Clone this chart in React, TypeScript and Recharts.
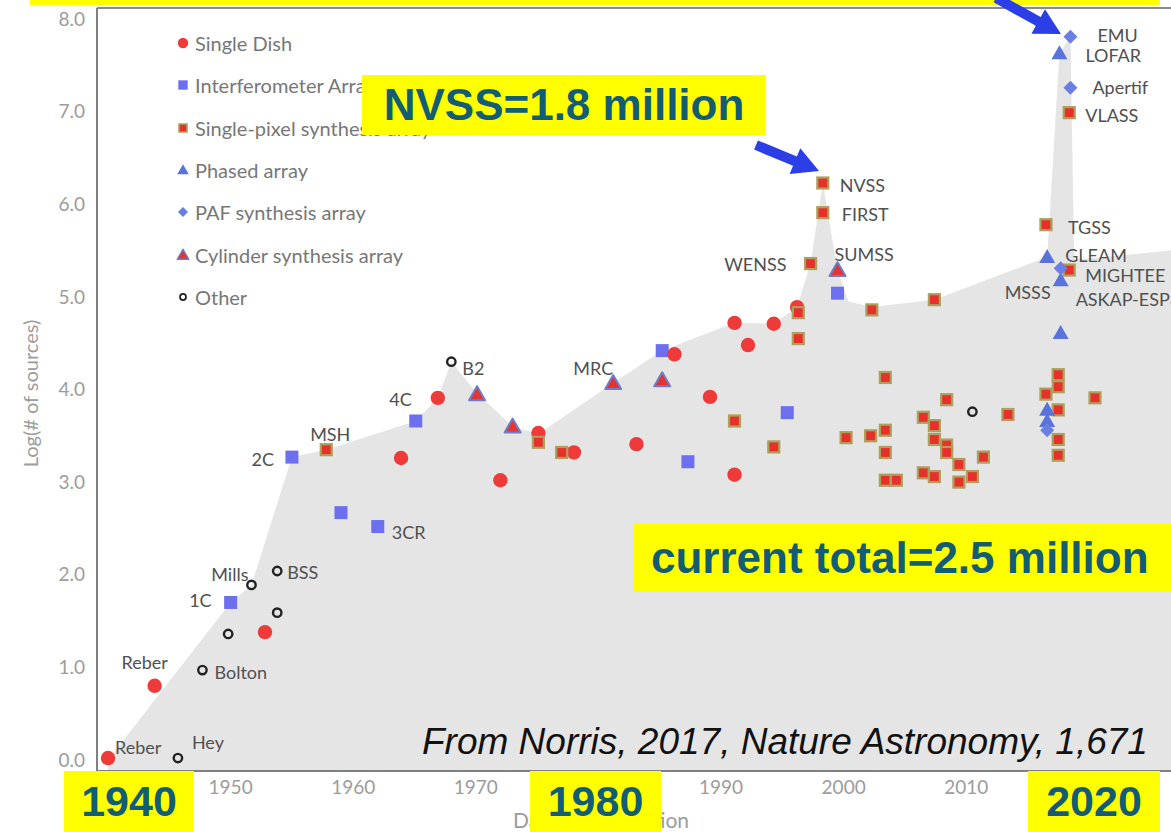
import { ComposedChart, Area, Scatter, XAxis, YAxis, ReferenceLine, Legend } from 'recharts';

const FONT = 'Lato, "Open Sans", sans-serif';
const BANNER_FONT = '"Liberation Sans", Arial, sans-serif';

// upper envelope of the largest catalogue so far (grey band)
const envelope = [
    { year: 1940.0, logN: 0.0 },
    { year: 1950.0, logN: 1.7 },
    { year: 1951.7, logN: 1.89 },
    { year: 1955.0, logN: 3.27 },
    { year: 1957.8, logN: 3.35 },
    { year: 1965.1, logN: 3.66 },
    { year: 1966.9, logN: 3.91 },
    { year: 1968.0, logN: 4.3 },
    { year: 1970.1, logN: 3.96 },
    { year: 1973.0, logN: 3.6 },
    { year: 1975.1, logN: 3.52 },
    { year: 1981.2, logN: 4.07 },
    { year: 1985.2, logN: 4.42 },
    { year: 1991.1, logN: 4.72 },
    { year: 1994.3, logN: 4.71 },
    { year: 1996.2, logN: 4.89 },
    { year: 1997.3, logN: 5.36 },
    { year: 1998.3, logN: 6.23 },
    { year: 1999.5, logN: 5.29 },
    { year: 2000.4, logN: 4.95 },
    { year: 2002.3, logN: 4.89 },
    { year: 2007.4, logN: 4.97 },
    { year: 2016.6, logN: 5.43 },
    { year: 2017.6, logN: 7.63 },
    { year: 2018.5, logN: 7.81 },
    { year: 2018.8, logN: 5.4 },
    { year: 2026.7, logN: 5.5 },
];

const singleDish = [
    { year: 1940.0, logN: 0.02, name: 'Reber' },
    { year: 1943.8, logN: 0.8, name: 'Reber' },
    { year: 1952.8, logN: 1.38 },
    { year: 1963.9, logN: 3.26 },
    { year: 1966.9, logN: 3.91 },
    { year: 1972.0, logN: 3.02 },
    { year: 1975.1, logN: 3.53 },
    { year: 1978.0, logN: 3.32 },
    { year: 1983.1, logN: 3.41 },
    { year: 1986.2, logN: 4.38 },
    { year: 1989.1, logN: 3.92 },
    { year: 1991.1, logN: 4.72 },
    { year: 1991.1, logN: 3.08 },
    { year: 1992.2, logN: 4.48 },
    { year: 1994.3, logN: 4.71 },
    { year: 1996.2, logN: 4.89 },
];

const interferometer = [
    { year: 1950.0, logN: 1.7, name: '1C' },
    { year: 1955.0, logN: 3.27, name: '2C' },
    { year: 1959.0, logN: 2.67 },
    { year: 1962.0, logN: 2.52, name: '3CR' },
    { year: 1965.1, logN: 3.66, name: '4C' },
    { year: 1985.2, logN: 4.42 },
    { year: 1987.3, logN: 3.22 },
    { year: 1995.4, logN: 3.75 },
    { year: 1999.5, logN: 5.04 },
];

const singlePixel = [
    { year: 1957.8, logN: 3.35, name: 'MSH' },
    { year: 1975.1, logN: 3.43 },
    { year: 1977.0, logN: 3.32 },
    { year: 1991.1, logN: 3.66 },
    { year: 1994.3, logN: 3.38 },
    { year: 1996.3, logN: 4.83 },
    { year: 1996.3, logN: 4.55 },
    { year: 1997.3, logN: 5.36, name: 'WENSS' },
    { year: 1998.3, logN: 5.91, name: 'FIRST' },
    { year: 1998.3, logN: 6.23, name: 'NVSS' },
    { year: 2000.2, logN: 3.48 },
    { year: 2002.2, logN: 3.5 },
    { year: 2002.3, logN: 4.86 },
    { year: 2003.4, logN: 4.13 },
    { year: 2003.4, logN: 3.56 },
    { year: 2003.4, logN: 3.32 },
    { year: 2003.4, logN: 3.02 },
    { year: 2004.3, logN: 3.02 },
    { year: 2006.5, logN: 3.7 },
    { year: 2006.5, logN: 3.1 },
    { year: 2007.4, logN: 4.97 },
    { year: 2007.4, logN: 3.61 },
    { year: 2007.4, logN: 3.46 },
    { year: 2007.4, logN: 3.06 },
    { year: 2008.4, logN: 3.89 },
    { year: 2008.4, logN: 3.4 },
    { year: 2008.4, logN: 3.32 },
    { year: 2009.4, logN: 3.19 },
    { year: 2009.4, logN: 3.0 },
    { year: 2010.5, logN: 3.06 },
    { year: 2011.4, logN: 3.27 },
    { year: 2013.4, logN: 3.73 },
    { year: 2016.5, logN: 3.95 },
    { year: 2016.5, logN: 5.78, name: 'TGSS' },
    { year: 2017.5, logN: 4.16 },
    { year: 2017.5, logN: 4.03 },
    { year: 2017.5, logN: 3.78 },
    { year: 2017.5, logN: 3.46 },
    { year: 2017.5, logN: 3.29 },
    { year: 2018.4, logN: 6.99, name: 'VLASS' },
    { year: 2018.4, logN: 5.29, name: 'MIGHTEE' },
    { year: 2020.5, logN: 3.91 },
];

const phasedArray = [
    { year: 2016.6, logN: 3.78 },
    { year: 2016.6, logN: 3.66 },
    { year: 2016.6, logN: 5.43, name: 'GLEAM' },
    { year: 2017.6, logN: 7.63, name: 'LOFAR' },
    { year: 2017.7, logN: 5.18, name: 'MSSS' },
    { year: 2017.7, logN: 4.61 },
];

const pafArray = [
    { year: 2016.6, logN: 3.56 },
    { year: 2017.7, logN: 5.31, name: 'ASKAP-ESP3' },
    { year: 2018.5, logN: 7.26, name: 'Apertif' },
    { year: 2018.5, logN: 7.81, name: 'EMU' },
];

const cylinder = [
    { year: 1970.1, logN: 3.95 },
    { year: 1973.0, logN: 3.6 },
    { year: 1981.2, logN: 4.07, name: 'MRC' },
    { year: 1985.2, logN: 4.1 },
    { year: 1999.5, logN: 5.29, name: 'SUMSS' },
];

const other = [
    { year: 1945.7, logN: 0.02, name: 'Hey' },
    { year: 1947.7, logN: 0.97, name: 'Bolton' },
    { year: 1949.8, logN: 1.36 },
    { year: 1951.7, logN: 1.89, name: 'Mills' },
    { year: 1953.8, logN: 2.04, name: 'BSS' },
    { year: 1953.8, logN: 1.59 },
    { year: 1968.0, logN: 4.3, name: 'B2' },
    { year: 2010.5, logN: 3.76 },
];

// 1940, 1980 and 2020 sit under the yellow year banners
const yearTicks = [1950, 1960, 1970, 1990, 2000, 2010];
const logTicks = [0, 1, 2, 3, 4, 5, 6, 7, 8];

const series = [
    { name: 'Single Dish', kind: 'dish', data: singleDish },
    { name: 'Interferometer Array', kind: 'interf', data: interferometer },
    { name: 'Single-pixel synthesis array', kind: 'pixel', data: singlePixel },
    { name: 'Phased array', kind: 'phased', data: phasedArray },
    { name: 'PAF synthesis array', kind: 'paf', data: pafArray },
    { name: 'Cylinder synthesis array', kind: 'cyl', data: cylinder },
    { name: 'Other', kind: 'other', data: other },
];

// draw order: squares under the red dishes, like the original
const drawOrder = ['interf', 'dish', 'pixel', 'cyl', 'phased', 'paf', 'other'];

// where each survey name sits relative to its marker: anchor, dx, dy
const LABEL_POS: Record<string, [string, number, number]> = {
    'Reber@1940': ['start', 7, -11],
    'Reber@1944': ['middle', -10, -24],
    Hey: ['start', 14, -16],
    Bolton: ['start', 12, 2],
    '1C': ['end', -19, -2],
    Mills: ['end', -3, -11],
    BSS: ['start', 10, 1],
    '2C': ['end', -18, 2],
    MSH: ['middle', 4, -16],
    '3CR': ['start', 14, 5],
    '4C': ['end', -4, -22],
    B2: ['start', 11, 6],
    MRC: ['end', 0, -15],
    NVSS: ['start', 17, 2],
    FIRST: ['start', 19, 1],
    WENSS: ['end', -24, 0],
    SUMSS: ['start', -3, -16],
    EMU: ['start', 27, -2],
    LOFAR: ['start', 26, 2],
    Apertif: ['start', 22, -1],
    VLASS: ['start', 16, 2],
    TGSS: ['start', 22, 2],
    GLEAM: ['start', 18, -2],
    MIGHTEE: ['start', 16, 5],
    MSSS: ['end', -10, 12],
    'ASKAP-ESP3': ['start', 15, 31],
};

const Glyph = ({ kind, cx, cy, s = 1 }: { kind: string, cx: number, cy: number, s?: number }) => {
    switch (kind) {
        case 'dish':
            return <circle cx={cx} cy={cy} r={7.2 * s} fill="#ef3a3a" />;
        case 'interf':
            return <rect x={cx - 6.5 * s} y={cy - 6.5 * s} width={13 * s} height={13 * s} fill="#6d70ee" />;
        case 'pixel':
            return <rect x={cx - 5.5 * s} y={cy - 5.5 * s} width={11 * s} height={11 * s} fill="#e8302b" stroke="#aca05e" strokeWidth={2.2 * s} />;
        case 'phased':
            return <polygon points={`${cx},${cy - 8 * s} ${cx + 8 * s},${cy + 6 * s} ${cx - 8 * s},${cy + 6 * s}`} fill="#5a72dc" />;
        case 'paf':
            return <polygon points={`${cx},${cy - 7 * s} ${cx + 7 * s},${cy} ${cx},${cy + 7 * s} ${cx - 7 * s},${cy}`} fill="#6b7fe2" />;
        case 'cyl':
            return <polygon points={`${cx},${cy - 8 * s} ${cx + 8 * s},${cy + 6 * s} ${cx - 8 * s},${cy + 6 * s}`} fill="#e43434" stroke="#6f7cc6" strokeWidth={2 * s} strokeLinejoin="round" />;
        default:
            return <circle cx={cx} cy={cy} r={4.2 * s} fill="none" stroke="#222" strokeWidth={2.4 * s} />;
    }
};

const makeShape = (kind: string) => (props: any) => {
    const { cx, cy, payload } = props;
    const name = payload?.name;
    const pos = name ? (LABEL_POS[`${name}@${Math.round(payload.year)}`] || LABEL_POS[name]) : null;
    return (
        <g>
            <Glyph kind={kind} cx={cx} cy={cy} />
            {pos && (
                <text x={cx + pos[1]} y={cy + pos[2]} textAnchor={pos[0] as any} dominantBaseline="central"
                    fontSize={18} fontFamily={FONT} fill="#505050">
                    {name}
                </text>
            )}
        </g>
    );
};

const LegendBox = () => (
    <div style={{ fontFamily: FONT }}>
        {series.map((s) => (
            <div key={s.name} style={{ height: 42.3, display: 'flex', alignItems: 'center', whiteSpace: 'nowrap' }}>
                <svg width={16} height={16} style={{ flex: 'none' }}>
                    <Glyph kind={s.kind} cx={8} cy={8} s={0.72} />
                </svg>
                <span style={{ marginLeft: 4, fontSize: 20, color: '#777' }}>{s.name}</span>
            </div>
        ))}
    </div>
);

const arrowPoints = (x1: number, y1: number, x2: number, y2: number, w = 5, hl = 24, hw = 13) => {
    const len = Math.hypot(x2 - x1, y2 - y1);
    const ux = (x2 - x1) / len, uy = (y2 - y1) / len;
    const nx = -uy, ny = ux;
    const bx = x2 - ux * hl, by = y2 - uy * hl;
    const pts = [
        [x1 + nx * w, y1 + ny * w], [bx + nx * w, by + ny * w], [bx + nx * hw, by + ny * hw], [x2, y2],
        [bx - nx * hw, by - ny * hw], [bx - nx * w, by - ny * w], [x1 - nx * w, y1 - ny * w],
    ];
    return pts.map((p) => p.join(',')).join(' ');
};

const Banner = ({ left, top, width, height, size, text, justify = 'center', padLeft = 0 }: any) => (
    <div style={{
        position: 'absolute', left, top, width, height, background: '#ffff00', display: 'flex',
        alignItems: 'center', justifyContent: justify, paddingLeft: padLeft, boxSizing: 'border-box',
        fontFamily: BANNER_FONT, fontWeight: 'bold', fontSize: size, color: '#125d74', whiteSpace: 'nowrap',
    }}>
        {text}
    </div>
);

export default function App() {
    return (
        <div style={{ position: 'absolute', left: 0, top: 0, width: 1171, height: 832, overflow: 'hidden', background: '#fff' }}>
            <ComposedChart width={1171} height={832} margin={{ top: 8, right: 0, bottom: 0, left: 0 }}>
                <XAxis type="number" dataKey="year" domain={[1939.1, 2026.7]} allowDataOverflow ticks={yearTicks}
                    height={61} tickSize={0} tickMargin={10} tickLine={false}
                    axisLine={{ stroke: '#808080', strokeWidth: 2 }}
                    tick={{ fill: '#9c9c9c', fontSize: 19, fontFamily: FONT }}
                    label={{
                        content: ({ viewBox }: any) => (
                            <text x={viewBox.x + 504} y={viewBox.y + 48} textAnchor="middle" dominantBaseline="central"
                                fontSize={21} fontFamily={FONT} fill="#9c9c9c">Date of publication</text>
                        ),
                    }} />
                <YAxis type="number" dataKey="logN" domain={[-0.12, 8.12]} allowDataOverflow ticks={logTicks}
                    width={97} tickSize={0} tickMargin={12} tickLine={false}
                    tickFormatter={(v) => v.toFixed(1)}
                    axisLine={{ stroke: '#808080', strokeWidth: 2 }}
                    tick={{ fill: '#9c9c9c', fontSize: 19, fontFamily: FONT }}
                    label={{
                        content: ({ viewBox }: any) => {
                            const x = viewBox.x + 30;
                            const y = viewBox.y + viewBox.height / 2 + 4;
                            return (
                                <text x={x} y={y} transform={`rotate(-90 ${x} ${y})`} textAnchor="middle" dominantBaseline="central"
                                    fontSize={20} fontFamily={FONT} fill="#9c9c9c">Log(# of sources)</text>
                            );
                        },
                    }} />
                <Area data={envelope} dataKey="logN" type="linear" baseValue="dataMin" fill="#e5e5e5" fillOpacity={1}
                    stroke="none" legendType="none" isAnimationActive={false} />
                <ReferenceLine y={8.12} stroke="#8a8a8a" strokeWidth={2} />
                {drawOrder.map((k) => {
                    const s = series.find((d) => d.kind === k)!;
                    return (
                        <Scatter key={s.name} name={s.name} data={s.data} dataKey="logN"
                            shape={makeShape(s.kind)} isAnimationActive={false} />
                    );
                })}
                <Legend layout="vertical" align="center" verticalAlign="middle" content={() => <LegendBox />}
                    wrapperStyle={{ left: 175, top: 22, width: 300, height: 300 }} />
            </ComposedChart>

            <div style={{ position: 'absolute', left: 30, top: 0, width: 1130, height: 5, background: '#ffff00' }} />

            <div style={{
                position: 'absolute', left: 422, top: 718, fontFamily: BANNER_FONT, fontStyle: 'italic',
                fontSize: 37, color: '#111', whiteSpace: 'nowrap', lineHeight: '48px',
            }}>
                From Norris, 2017, Nature Astronomy, 1,671
            </div>

            <Banner left={362} top={75} width={404} height={60} size={44} text="NVSS=1.8 million" />
            <Banner left={633} top={523} width={545} height={69} size={44} text="current total=2.5 million" justify="flex-start" padLeft={18} />
            <Banner left={64} top={771} width={130} height={61} size={43} text="1940" />
            <Banner left={530} top={771} width={131} height={61} size={43} text="1980" />
            <Banner left={1028} top={771} width={132} height={61} size={43} text="2020" />

            <svg width={1171} height={832} style={{ position: 'absolute', left: 0, top: 0, pointerEvents: 'none' }}>
                <polygon points={arrowPoints(756, 145, 819, 171, 5, 26, 14)} fill="#2c3ee6" />
                <polygon points={arrowPoints(996, -2, 1061, 34, 5, 26, 14)} fill="#2c3ee6" />
            </svg>
        </div>
    );
}
